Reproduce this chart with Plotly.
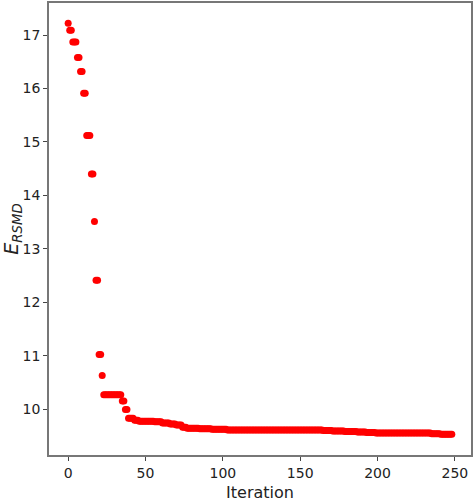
import numpy as np
import plotly.graph_objects as go

# E_RSMD plateaus: level and how many iterations it holds
levels = [17.22, 17.09, 16.87, 16.58, 16.32, 15.91, 15.12, 14.40, 13.51, 12.41,
          11.02, 10.63, 10.27, 10.15, 9.99, 9.83, 9.79, 9.77, 9.76, 9.74,
          9.72, 9.70, 9.66, 9.64, 9.63, 9.62, 9.61, 9.60, 9.59, 9.58,
          9.57, 9.56, 9.55, 9.54, 9.53]
run_lengths = [1, 2, 3, 2, 2, 2, 3, 2, 1, 2,
               2, 1, 12, 2, 2, 4, 3, 10, 5, 5,
               4, 4, 3, 8, 8, 10, 62, 6, 8, 8,
               6, 6, 36, 6, 8]

x_ticks = [0, 50, 100, 150, 200, 250]
y_ticks = [10, 11, 12, 13, 14, 15, 16, 17]

error = np.repeat(levels, run_lengths)
iteration = np.arange(len(error))

FONT = "DejaVu Sans"

fig = go.Figure(go.Scatter(
    x=iteration, y=error, mode='markers',
    marker=dict(color='red', size=7, line=dict(width=0)),
))

fig.update_layout(
    width=474, height=502,
    margin=dict(l=49, r=2, t=1, b=47),
    paper_bgcolor='white', plot_bgcolor='white',
    font=dict(family=FONT, size=14, color='#222'),
    showlegend=False,
)
fig.update_xaxes(
    range=[-12.4, 260.4], tickvals=x_ticks, showgrid=False, zeroline=False,
    showline=True, linecolor='#777', linewidth=1.5, mirror=True,
    ticks='outside', ticklen=4, tickcolor='#444',
    title=dict(text='Iteration', font=dict(size=16), standoff=9),
)
fig.update_yaxes(
    range=[9.14, 17.6], tickvals=y_ticks, showgrid=False, zeroline=False,
    showline=True, linecolor='#777', linewidth=1.5, mirror=True,
    ticks='outside', ticklen=4, tickcolor='#444',
    title=dict(text='<i>E</i><sub><i>RSMD</i></sub>', font=dict(size=19), standoff=8),
)

# drop the page's default body margin so the figure sits at the window corner
fig.write_html("out.html", config={'displayModeBar': False},
               post_script="document.body.style.margin='0';")
